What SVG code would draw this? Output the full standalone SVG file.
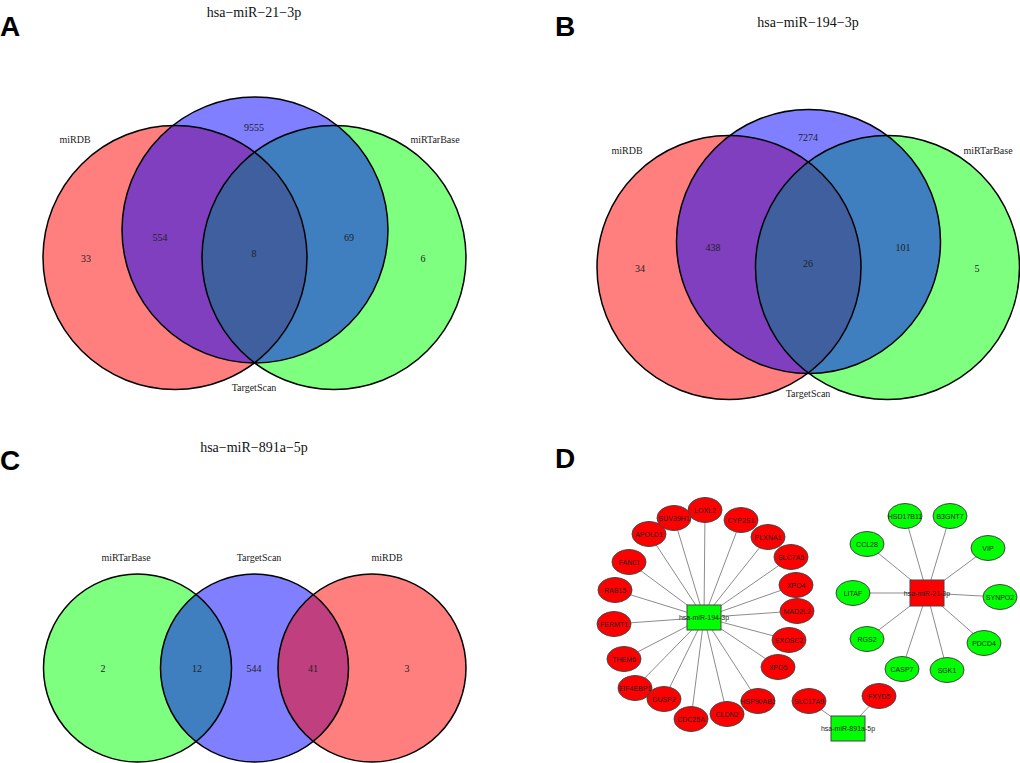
<svg xmlns="http://www.w3.org/2000/svg" width="1020" height="763" viewBox="0 0 1020 763">
<style>
.bg{fill:#fff}
.panel{font-family:"Liberation Sans",Arial,sans-serif;font-weight:bold;font-size:28px;fill:#000}
.title{font-family:"Liberation Serif","Times New Roman",serif;font-size:14px;fill:#111;text-anchor:middle}
.lbl{font-family:"Liberation Serif","Times New Roman",serif;font-size:10px;fill:#222;text-anchor:middle}
.num{font-family:"Liberation Serif","Times New Roman",serif;font-size:10px;fill:#222;text-anchor:middle}
.fr{fill:#ff0000;fill-opacity:.5}
.fg{fill:#00ff00;fill-opacity:.5}
.fb{fill:#0000ff;fill-opacity:.5}
.ring{fill:none;stroke:#000;stroke-width:1.5}
.edge{stroke:#8c8c8c;stroke-width:1;fill:none}
.er{fill:#ff0000;stroke:#444;stroke-width:1}
.eg{fill:#00ff00;stroke:#444;stroke-width:1}
.nt{font-family:"Liberation Sans",Arial,sans-serif;font-size:7px;fill:#222;text-anchor:middle}
</style>
<rect class="bg" x="0" y="0" width="1020" height="763"/>

<!-- Panel A -->
<g id="panelA">
<text class="panel" x="0" y="36">A</text>
<text class="title" x="254" y="17">hsa−miR−21−3p</text>
<g id="A-miRDB"><circle class="fr" cx="175" cy="257.5" r="132"/></g>
<g id="A-miRTarBase"><circle class="fg" cx="334" cy="257.5" r="132"/></g>
<g id="A-TargetScan"><circle class="fb" cx="255" cy="230" r="133"/></g>
<circle class="ring" cx="175" cy="257.5" r="132"/>
<circle class="ring" cx="334" cy="257.5" r="132"/>
<circle class="ring" cx="255" cy="230" r="133"/>
<text class="lbl" x="75" y="143">miRDB</text>
<text class="lbl" x="435" y="143">miRTarBase</text>
<text class="lbl" x="254" y="391">TargetScan</text>
<text class="num" x="254" y="131">9555</text>
<text class="num" x="86" y="262">33</text>
<text class="num" x="160" y="241">554</text>
<text class="num" x="254" y="257">8</text>
<text class="num" x="349" y="241">69</text>
<text class="num" x="423" y="262">6</text>
</g>

<!-- Panel B -->
<g id="panelB">
<text class="panel" x="555" y="36">B</text>
<text class="title" x="808" y="27">hsa−miR−194−3p</text>
<g id="B-miRDB"><circle class="fr" cx="729" cy="267.5" r="132"/></g>
<g id="B-miRTarBase"><circle class="fg" cx="887.5" cy="267.5" r="132"/></g>
<g id="B-TargetScan"><circle class="fb" cx="808.5" cy="241.5" r="132"/></g>
<circle class="ring" cx="729" cy="267.5" r="132"/>
<circle class="ring" cx="887.5" cy="267.5" r="132"/>
<circle class="ring" cx="808.5" cy="241.5" r="132"/>
<text class="lbl" x="627" y="154">miRDB</text>
<text class="lbl" x="988" y="154">miRTarBase</text>
<text class="lbl" x="808" y="397">TargetScan</text>
<text class="num" x="808" y="141">7274</text>
<text class="num" x="640" y="272">34</text>
<text class="num" x="713" y="251">438</text>
<text class="num" x="808" y="267">26</text>
<text class="num" x="903" y="251">101</text>
<text class="num" x="977" y="272">5</text>
</g>

<!-- Panel C -->
<g id="panelC">
<text class="panel" x="0" y="470">C</text>
<text class="title" x="254" y="452">hsa−miR−891a−5p</text>
<g id="C-miRTarBase"><circle class="fg" cx="137.5" cy="668" r="94"/></g>
<g id="C-TargetScan"><circle class="fb" cx="254.5" cy="668" r="94"/></g>
<g id="C-miRDB"><circle class="fr" cx="372" cy="668" r="94"/></g>
<circle class="ring" cx="137.5" cy="668" r="94"/>
<circle class="ring" cx="254.5" cy="668" r="94"/>
<circle class="ring" cx="372" cy="668" r="94"/>
<text class="lbl" x="126" y="561">miRTarBase</text>
<text class="lbl" x="259" y="561">TargetScan</text>
<text class="lbl" x="387" y="561">miRDB</text>
<text class="num" x="103" y="672">2</text>
<text class="num" x="197" y="672">12</text>
<text class="num" x="254" y="672">544</text>
<text class="num" x="313" y="672">41</text>
<text class="num" x="407" y="672">3</text>
</g>

<!-- Panel D -->
<text class="panel" x="555" y="468">D</text>
<g id="connectors">
<!-- miR-194-3p hub (704,617.5) -->
<line class="edge" x1="704" y1="617.5" x2="705" y2="510"/>
<line class="edge" x1="704" y1="617.5" x2="674" y2="518"/>
<line class="edge" x1="704" y1="617.5" x2="649" y2="534"/>
<line class="edge" x1="704" y1="617.5" x2="741" y2="520"/>
<line class="edge" x1="704" y1="617.5" x2="768" y2="537"/>
<line class="edge" x1="704" y1="617.5" x2="791" y2="557"/>
<line class="edge" x1="704" y1="617.5" x2="629" y2="562"/>
<line class="edge" x1="704" y1="617.5" x2="615" y2="590"/>
<line class="edge" x1="704" y1="617.5" x2="796" y2="585"/>
<line class="edge" x1="704" y1="617.5" x2="797" y2="611"/>
<line class="edge" x1="704" y1="617.5" x2="614" y2="624"/>
<line class="edge" x1="704" y1="617.5" x2="624" y2="659"/>
<line class="edge" x1="704" y1="617.5" x2="635" y2="688"/>
<line class="edge" x1="704" y1="617.5" x2="664" y2="699"/>
<line class="edge" x1="704" y1="617.5" x2="691" y2="719"/>
<line class="edge" x1="704" y1="617.5" x2="727" y2="714"/>
<line class="edge" x1="704" y1="617.5" x2="758" y2="701"/>
<line class="edge" x1="704" y1="617.5" x2="778" y2="667"/>
<line class="edge" x1="704" y1="617.5" x2="789" y2="640"/>
<!-- miR-21-3p hub (927,593) -->
<line class="edge" x1="927" y1="593" x2="905" y2="516"/>
<line class="edge" x1="927" y1="593" x2="950" y2="516"/>
<line class="edge" x1="927" y1="593" x2="867" y2="544"/>
<line class="edge" x1="927" y1="593" x2="988" y2="548"/>
<line class="edge" x1="927" y1="593" x2="853" y2="593"/>
<line class="edge" x1="927" y1="593" x2="1000" y2="597"/>
<line class="edge" x1="927" y1="593" x2="867" y2="639"/>
<line class="edge" x1="927" y1="593" x2="902" y2="669"/>
<line class="edge" x1="927" y1="593" x2="947" y2="670"/>
<line class="edge" x1="927" y1="593" x2="984" y2="643"/>
<!-- miR-891a-5p hub (848,728.5) -->
<line class="edge" x1="848" y1="728.5" x2="809" y2="701"/>
<line class="edge" x1="848" y1="728.5" x2="879" y2="696"/>
</g>

<g id="n-LOXL2"><ellipse class="er" cx="705" cy="510" rx="17" ry="12.5"/><text class="nt" x="705" y="512.5">LOXL2</text></g>
<g id="n-SUV39H1"><ellipse class="er" cx="674" cy="518" rx="17" ry="12.5"/><text class="nt" x="674" y="520.5">SUV39H1</text></g>
<g id="n-APOLD1"><ellipse class="er" cx="649" cy="534" rx="17" ry="12.5"/><text class="nt" x="649" y="536.5">APOLD1</text></g>
<g id="n-CYP2S1"><ellipse class="er" cx="741" cy="520" rx="17" ry="12.5"/><text class="nt" x="741" y="522.5">CYP2S1</text></g>
<g id="n-PLXNA1"><ellipse class="er" cx="768" cy="537" rx="17" ry="12.5"/><text class="nt" x="768" y="539.5">PLXNA1</text></g>
<g id="n-SLC7A5"><ellipse class="er" cx="791" cy="557" rx="17" ry="12.5"/><text class="nt" x="791" y="559.5">SLC7A5</text></g>
<g id="n-FANCI"><ellipse class="er" cx="629" cy="562" rx="17" ry="12.5"/><text class="nt" x="629" y="564.5">FANCI</text></g>
<g id="n-RAB15"><ellipse class="er" cx="615" cy="590" rx="17" ry="12.5"/><text class="nt" x="615" y="592.5">RAB15</text></g>
<g id="n-XPO4"><ellipse class="er" cx="796" cy="585" rx="17" ry="12.5"/><text class="nt" x="796" y="587.5">XPO4</text></g>
<g id="n-MAD2L2"><ellipse class="er" cx="797" cy="611" rx="17" ry="12.5"/><text class="nt" x="797" y="613.5">MAD2L2</text></g>
<g id="n-FERMT1"><ellipse class="er" cx="614" cy="624" rx="17" ry="12.5"/><text class="nt" x="614" y="626.5">FERMT1</text></g>
<g id="n-THEM6"><ellipse class="er" cx="624" cy="659" rx="17" ry="12.5"/><text class="nt" x="624" y="661.5">THEM6</text></g>
<g id="n-EIF4EBP1"><ellipse class="er" cx="635" cy="688" rx="17" ry="12.5"/><text class="nt" x="635" y="690.5">EIF4EBP1</text></g>
<g id="n-DUSP2"><ellipse class="er" cx="664" cy="699" rx="17" ry="12.5"/><text class="nt" x="664" y="701.5">DUSP2</text></g>
<g id="n-CDC25A"><ellipse class="er" cx="691" cy="719" rx="17" ry="12.5"/><text class="nt" x="691" y="721.5">CDC25A</text></g>
<g id="n-CLDN2"><ellipse class="er" cx="727" cy="714" rx="17" ry="12.5"/><text class="nt" x="727" y="716.5">CLDN2</text></g>
<g id="n-HSP90AB1"><ellipse class="er" cx="758" cy="701" rx="17" ry="12.5"/><text class="nt" x="758" y="703.5">HSP90AB1</text></g>
<g id="n-XPO5"><ellipse class="er" cx="778" cy="667" rx="17" ry="12.5"/><text class="nt" x="778" y="669.5">XPO5</text></g>
<g id="n-EXOSC2"><ellipse class="er" cx="789" cy="640" rx="17" ry="12.5"/><text class="nt" x="789" y="642.5">EXOSC2</text></g>
<g id="n-miR-194-3p"><rect class="eg" x="687" y="605" width="34" height="25"/><text class="nt" x="704" y="620">hsa-miR-194-3p</text></g>

<g id="n-HSD17B11"><ellipse class="eg" cx="905" cy="516" rx="17" ry="12.5"/><text class="nt" x="905" y="518.5">HSD17B11</text></g>
<g id="n-B3GNT7"><ellipse class="eg" cx="950" cy="516" rx="17" ry="12.5"/><text class="nt" x="950" y="518.5">B3GNT7</text></g>
<g id="n-CCL28"><ellipse class="eg" cx="867" cy="544" rx="17" ry="12.5"/><text class="nt" x="867" y="546.5">CCL28</text></g>
<g id="n-VIP"><ellipse class="eg" cx="988" cy="548" rx="17" ry="12.5"/><text class="nt" x="988" y="550.5">VIP</text></g>
<g id="n-LITAF"><ellipse class="eg" cx="853" cy="593" rx="17" ry="12.5"/><text class="nt" x="853" y="595.5">LITAF</text></g>
<g id="n-SYNPO2"><ellipse class="eg" cx="1000" cy="597" rx="17" ry="12.5"/><text class="nt" x="1000" y="599.5">SYNPO2</text></g>
<g id="n-RGS2"><ellipse class="eg" cx="867" cy="639" rx="17" ry="12.5"/><text class="nt" x="867" y="641.5">RGS2</text></g>
<g id="n-CASP7"><ellipse class="eg" cx="902" cy="669" rx="17" ry="12.5"/><text class="nt" x="902" y="671.5">CASP7</text></g>
<g id="n-SGK1"><ellipse class="eg" cx="947" cy="670" rx="17" ry="12.5"/><text class="nt" x="947" y="672.5">SGK1</text></g>
<g id="n-PDCD4"><ellipse class="eg" cx="984" cy="643" rx="17" ry="12.5"/><text class="nt" x="984" y="645.5">PDCD4</text></g>
<g id="n-miR-21-3p"><rect class="er" x="910" y="580" width="34" height="26"/><text class="nt" x="927" y="595.5">hsa-miR-21-3p</text></g>

<g id="n-SLC17A9"><ellipse class="er" cx="809" cy="701" rx="17" ry="12.5"/><text class="nt" x="809" y="703.5">SLC17A9</text></g>
<g id="n-FXYD5"><ellipse class="er" cx="879" cy="696" rx="17" ry="12.5"/><text class="nt" x="879" y="698.5">FXYD5</text></g>
<g id="n-miR-891a-5p"><rect class="eg" x="831" y="716" width="34" height="25"/><text class="nt" x="848" y="731">hsa-miR-891a-5p</text></g>
</svg>
